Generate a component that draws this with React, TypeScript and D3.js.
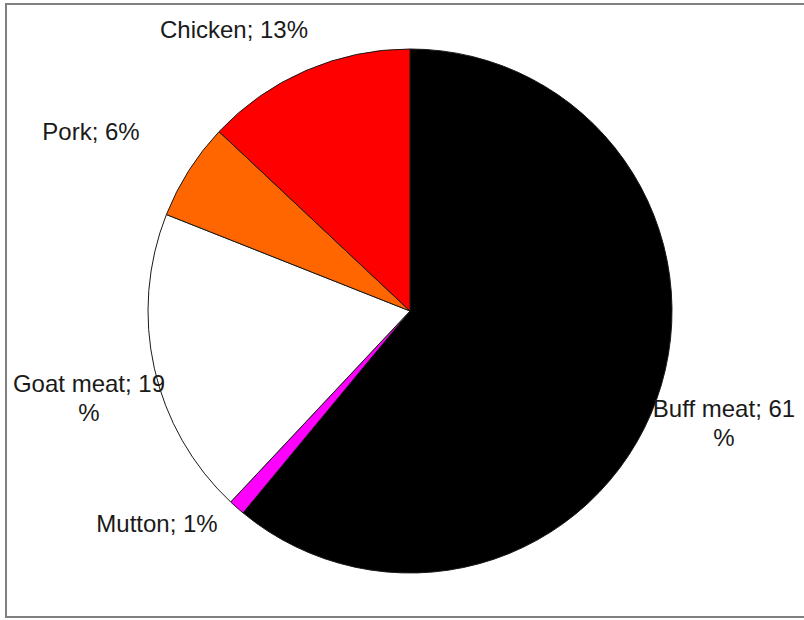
import * as d3 from "d3";
import { useEffect, useRef } from "react";

const categories = ["Buff meat", "Mutton", "Goat meat", "Pork", "Chicken"];
const shares = [61, 1, 19, 6, 13];
const sliceColors = ["#000000", "#ff00ff", "#ffffff", "#ff6600", "#ff0000"];

// label anchors (centre of first line baseline) and whether "%" wraps to next line
const labelLayout = [
  { x: 724, y: 417, wrap: true },
  { x: 157, y: 532, wrap: false },
  { x: 89, y: 392, wrap: true },
  { x: 91, y: 140, wrap: false },
  { x: 234, y: 38, wrap: false },
];

const width = 804;
const height = 620;

export default function App() {
  const svgRef = useRef<SVGSVGElement>(null);

  useEffect(() => {
    const svg = d3.select(svgRef.current);
    svg.selectAll("*").remove();

    svg.append("rect")
      .attr("width", width)
      .attr("height", height)
      .attr("fill", "#fff");

    // frame
    svg.append("rect")
      .attr("x", 6)
      .attr("y", 4)
      .attr("width", 820)
      .attr("height", 613)
      .attr("fill", "none")
      .attr("stroke", "#808080")
      .attr("stroke-width", 2);

    const cx = 410;
    const cy = 311;
    const radius = 262;

    const pie = d3.pie<number>().sort(null).value(d => d).startAngle(0).endAngle(2 * Math.PI);
    const arcs = pie(shares);
    const arc = d3.arc<d3.PieArcDatum<number>>().innerRadius(0).outerRadius(radius);

    svg.append("g")
      .attr("transform", `translate(${cx},${cy})`)
      .selectAll("path")
      .data(arcs)
      .join("path")
      .attr("d", arc)
      .attr("fill", (_, i) => sliceColors[i])
      .attr("stroke", "#1a1a1a")
      .attr("stroke-width", 1);

    const labels = svg.append("g")
      .attr("font-family", "Liberation Sans, Arial, sans-serif")
      .attr("font-size", 24)
      .attr("fill", "#1a1a1a")
      .attr("text-anchor", "middle");

    categories.forEach((name, i) => {
      const lay = labelLayout[i];
      const t = labels.append("text").attr("x", lay.x).attr("y", lay.y);
      if (lay.wrap) {
        t.append("tspan").attr("x", lay.x).text(`${name}; ${shares[i]}`);
        t.append("tspan").attr("x", lay.x).attr("dy", 29).text("%");
      } else {
        t.text(`${name}; ${shares[i]}%`);
      }
    });
  }, []);

  return (
    <svg
      ref={svgRef}
      width={width}
      height={height}
      style={{ position: "absolute", left: 0, top: 0 }}
    />
  );
}
